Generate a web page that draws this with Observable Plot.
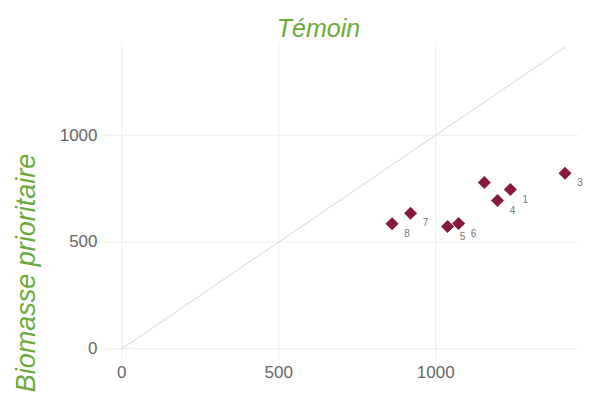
<!DOCTYPE html>
<html>
<head>
<meta charset="utf-8">
<script src="https://cdn.jsdelivr.net/npm/d3@7"></script>
<script src="https://cdn.jsdelivr.net/npm/@observablehq/plot@0.6"></script>
<style>
  html, body { margin: 0; padding: 0; background: #fff; }
  #chart svg { display: block; }
</style>
</head>
<body>
<div id="chart"></div>
<script>
// Data
const ids      = ["1", "2", "3", "4", "5", "6", "7", "8"];
const labels   = ["1", "",  "3", "4", "5", "6", "7", "8"];
const temoin   = [1238, 1155, 1412, 1197, 1038, 1073, 920, 861];   // x
const prior    = [746,  779,  822,  694,  573,  587,  635, 585];   // y
const xTicks   = [0, 500, 1000];
const yTicks   = [0, 500, 1000];
const titleText = "Témoin";
const yLabelText = "Biomasse prioritaire";

const points = ids.map((id, i) => ({id, label: labels[i], x: temoin[i], y: prior[i]}));
const maxX = d3.max(temoin);
const diagonal = [{v: 0}, {v: maxX}];

const green = "#6aaa3c";
const handFont = "'Liberation Sans', Arial, sans-serif";

const chart = Plot.plot({
  width: 589,
  height: 396,
  marginLeft: 104,
  marginRight: 11,
  marginTop: 42,
  marginBottom: 37,
  style: {fontFamily: "'Liberation Sans', Arial, sans-serif", background: "#fff"},
  x: {domain: [-55, 1455]},
  y: {domain: [-50, 1434]},
  marks: [
    Plot.gridX(xTicks, {stroke: "#ececec", strokeOpacity: 1, strokeWidth: 1}),
    Plot.gridY(yTicks, {stroke: "#ececec", strokeOpacity: 1, strokeWidth: 1}),
    Plot.axisX(xTicks, {tickSize: 0, tickPadding: 6, fontSize: 17, fill: "#666", label: null, tickFormat: d3.format("d")}),
    Plot.axisY(yTicks, {tickSize: 0, tickPadding: 7, fontSize: 17, fill: "#666", label: null, tickFormat: d3.format("d")}),
    Plot.line(diagonal, {x: "v", y: "v", stroke: "#d4d4d4", strokeWidth: 1}),
    Plot.dot(points, {x: "x", y: "y", symbol: "square", rotate: 45, r: 5.2, fill: "#87173f", stroke: "none"}),
    Plot.text(points, {x: "x", y: "y", text: "label", dx: 15, dy: 10, fontSize: 10, fill: "#777"}),
    Plot.text([titleText], {frameAnchor: "top", text: d => d, dx: -23, dy: -23, fontSize: 25, fontStyle: "italic", fill: green, fontFamily: handFont}),
    Plot.text([yLabelText], {frameAnchor: "left", textAnchor: "middle", text: d => d, rotate: -90, dx: -78, dy: 72, fontSize: 27, fontStyle: "italic", fill: green, fontFamily: handFont})
  ]
});
document.getElementById("chart").appendChild(chart);
</script>
</body>
</html>
